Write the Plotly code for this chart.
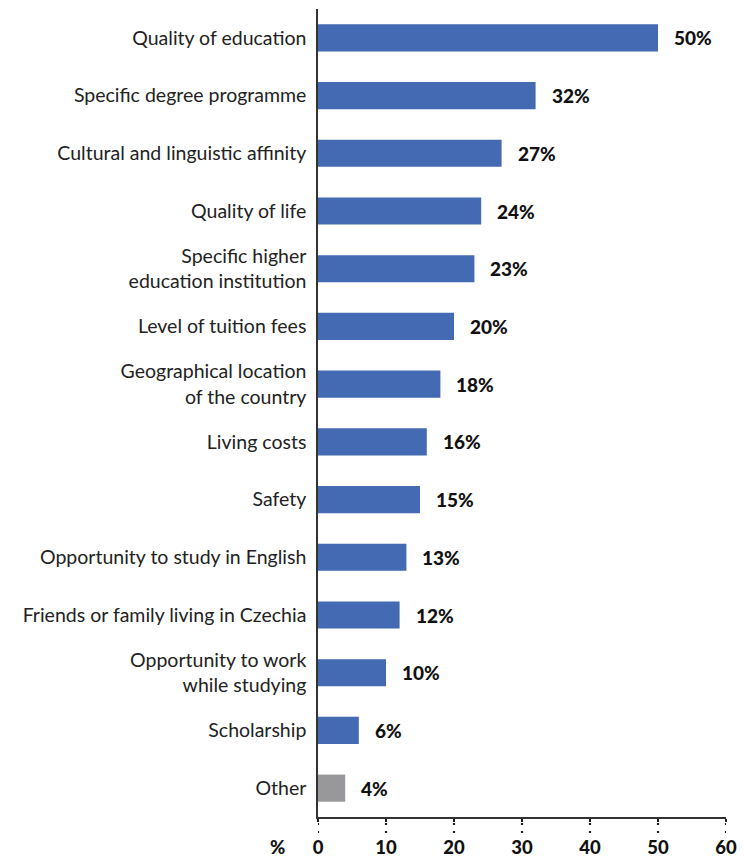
import plotly.graph_objects as go

# Reasons for choosing to study in Czechia (share of respondents, %)
categories = [
    "Quality of education",
    "Specific degree programme",
    "Cultural and linguistic affinity",
    "Quality of life",
    "Specific higher<br>education institution",
    "Level of tuition fees",
    "Geographical location<br>of the country",
    "Living costs",
    "Safety",
    "Opportunity to study in English",
    "Friends or family living in Czechia",
    "Opportunity to work<br>while studying",
    "Scholarship",
    "Other",
]
values = [50, 32, 27, 24, 23, 20, 18, 16, 15, 13, 12, 10, 6, 4]
x_ticks = [0, 10, 20, 30, 40, 50, 60]

BLUE = "#436AB2"
GREY = "#98989B"
bar_colors = [GREY if c == "Other" else BLUE for c in categories]

BOLD_FONT = dict(family="Lato", size=19, color="#111111", weight=900)

fig = go.Figure()
fig.add_trace(go.Bar(
    x=values,
    y=categories,
    orientation="h",
    marker=dict(color=bar_colors, line=dict(width=0)),
    width=0.47,
    hoverinfo="skip",
))

# value labels to the right of each bar
for cat, v in zip(categories, values):
    fig.add_annotation(
        x=v, y=cat, xref="x", yref="y",
        text=f"{v}%", showarrow=False,
        xanchor="left", xshift=14,
        font=BOLD_FONT,
    )

# dotted tick marks below the x axis
for t in x_ticks:
    fig.add_shape(
        type="line", xref="x", yref="paper",
        x0=t, x1=t, y0=-0.0075, y1=-0.022,
        line=dict(color="#222222", width=2.2, dash="2px,6px"),
    )

# axis unit label
fig.add_annotation(
    x=0, y=0, xref="paper", yref="paper",
    text="%", showarrow=False,
    xshift=-41, yshift=-30, xanchor="center", yanchor="middle",
    font=dict(BOLD_FONT, size=18.5),
)

fig.update_layout(
    template="none",
    width=745, height=858,
    margin=dict(l=318, r=19, t=9, b=41, autoexpand=False),
    paper_bgcolor="white", plot_bgcolor="white",
    showlegend=False,
    xaxis=dict(
        range=[0, 60], tickvals=x_ticks,
        ticktext=[str(t) for t in x_ticks],
        showgrid=False, zeroline=False, automargin=False,
        showline=True, linecolor="#333333", linewidth=1.5,
        ticks="outside", ticklen=3, tickwidth=2, tickcolor="#222222",
        ticklabelstandoff=10,
        tickfont=dict(BOLD_FONT, size=18.5),
        fixedrange=True,
    ),
    yaxis=dict(
        autorange=False,
        range=[13.5, -0.5],
        showgrid=False, zeroline=False, automargin=False,
        showline=True, linecolor="#333333", linewidth=1.5,
        ticks="", ticklabelstandoff=6,
        tickfont=dict(family="Lato", size=19.5, color="#222222"),
        fixedrange=True,
    ),
)

fig.write_html("out.html")
